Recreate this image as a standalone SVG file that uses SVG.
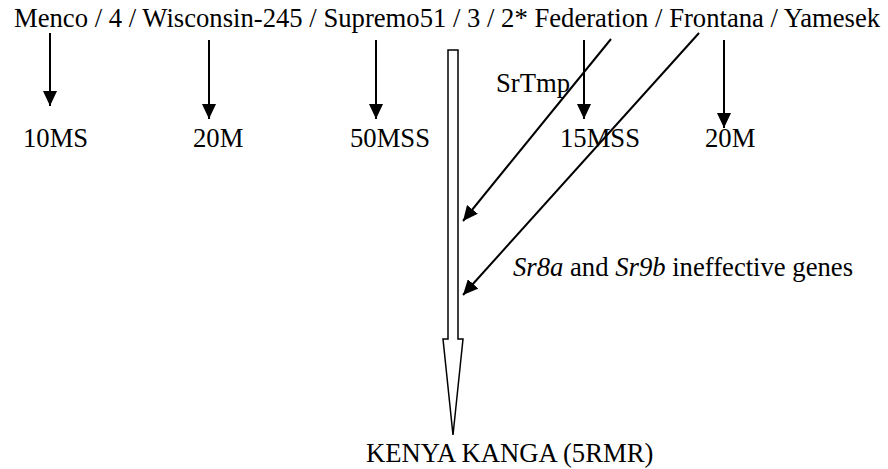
<svg xmlns="http://www.w3.org/2000/svg" width="888" height="469" viewBox="0 0 888 469">
<style>
text{font-family:"Liberation Serif","Times New Roman",serif;font-size:26.67px;fill:#000}
.it{font-style:italic}
.ln{stroke:#000;stroke-width:2;fill:none}
.big{fill:#fff;stroke:#000;stroke-width:1.5;stroke-linejoin:miter}
</style>
<defs>
<marker id="ah" viewBox="0 0 15 14" markerWidth="15" markerHeight="14" markerUnits="userSpaceOnUse" refX="15" refY="7" orient="auto">
<path d="M0,0 L15,7 L0,14 z" fill="#000"/>
</marker>
</defs>
<rect width="888" height="469" fill="#fff"/>
<g id="parentage"><text x="14" y="27">Menco / 4 / Wisconsin-245 / Supremo51 / 3 / 2* Federation / Frontana / Yamesek</text></g>
<g id="r10MS"><text x="23" y="147">10MS</text></g>
<g id="r20M-a"><text x="193" y="147">20M</text></g>
<g id="r50MSS"><text x="350" y="147">50MSS</text></g>
<g id="r15MSS"><text x="560" y="147">15MSS</text></g>
<g id="r20M-b"><text x="705" y="147">20M</text></g>
<g id="srtmp"><text x="496" y="92">SrTmp</text></g>
<g id="sr8a"><text x="513" y="276"><tspan class="it">Sr8a</tspan> and <tspan class="it">Sr9b</tspan> ineffective genes</text></g>
<g id="kenya"><text x="366" y="462">KENYA KANGA (5RMR)</text></g>
<g id="connectors">
<line class="ln" x1="50" y1="33" x2="50" y2="106" marker-end="url(#ah)"/>
<line class="ln" x1="209" y1="40" x2="209" y2="119" marker-end="url(#ah)"/>
<line class="ln" x1="376" y1="40" x2="376" y2="119" marker-end="url(#ah)"/>
<line class="ln" x1="584" y1="40" x2="584" y2="119" marker-end="url(#ah)"/>
<line class="ln" x1="724" y1="40" x2="724" y2="128" marker-end="url(#ah)"/>
<line class="ln" x1="611" y1="39" x2="463" y2="221" marker-end="url(#ah)"/>
<line class="ln" x1="699" y1="33" x2="463" y2="295" marker-end="url(#ah)"/>
<polygon class="big" points="448,50 458,50 458,339 463,339 453,435 443,339 448,339"/>
</g>
</svg>
